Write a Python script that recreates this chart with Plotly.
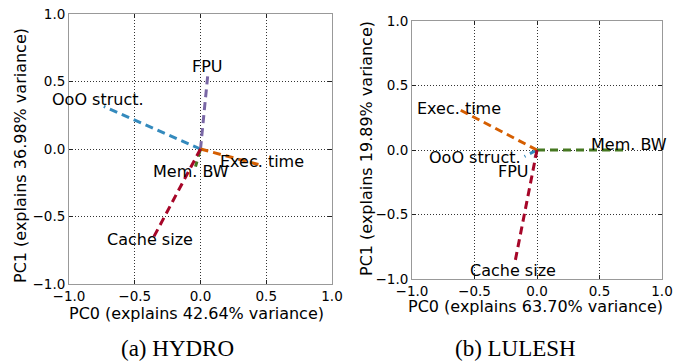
import plotly.graph_objects as go

# ---------------- data ----------------
features = ["OoO struct.", "FPU", "Exec. time", "Mem. BW", "Cache size"]

hydro_pc0 = [-0.735, 0.058, 0.46, -0.038, -0.367]
hydro_pc1 = [0.315, 0.575, -0.12, -0.13, -0.672]

lulesh_pc0 = [-0.10, -0.04, -0.614, 0.70, -0.178]
lulesh_pc1 = [-0.05, -0.095, 0.31, 0.0, -0.878]

# label anchor points (data coords)
hydro_lab_x = [-0.78, 0.05, 0.47, -0.076, -0.385]
hydro_lab_y = [0.37, 0.61, -0.09, -0.166, -0.667]
lulesh_lab_x = [-0.494, -0.19, -0.626, 0.736, -0.19]
lulesh_lab_y = [-0.055, -0.168, 0.318, 0.04, -0.935]

hydro_var = [42.64, 36.98]
lulesh_var = [63.70, 19.89]

ticks = [-1.0, -0.5, 0.0, 0.5, 1.0]
tick_text = ["\u22121.0", "\u22120.5", "0.0", "0.5", "1.0"]

captions = ["(a) HYDRO", "(b) LULESH"]

# ---------------- styles ----------------
colors = {"OoO struct.": "#348ABD", "FPU": "#7A68A6", "Exec. time": "#D55E00",
          "Mem. BW": "#467821", "Cache size": "#A60628"}
widths_hydro = {f: 3 for f in features}
widths_lulesh = {f: 3 for f in features}
widths_lulesh["FPU"] = 1

W, H = 686, 362
FONT = "DejaVu Sans"

fig = go.Figure()

panels = [
    dict(px=hydro_pc0, py=hydro_pc1, lx=hydro_lab_x, ly=hydro_lab_y, var=hydro_var,
         xa="x", ya="y", widths=widths_hydro,
         box=(69, 332, 14, 284), xt=(197, 313), yt=(20, 156), cap=(177, 348)),
    dict(px=lulesh_pc0, py=lulesh_pc1, lx=lulesh_lab_x, ly=lulesh_lab_y, var=lulesh_var,
         xa="x2", ya="y2", widths=widths_lulesh,
         box=(412, 662, 21, 279), xt=(535, 306), yt=(366, 149), cap=(515, 348)),
]

annotations = []
for i, p in enumerate(panels):
    for f, x, y in zip(features, p["px"], p["py"]):
        fig.add_trace(go.Scatter(
            x=[0, x], y=[0, y], mode="lines", xaxis=p["xa"], yaxis=p["ya"],
            line=dict(color=colors[f], width=p["widths"][f], dash="8px,5px"),
            showlegend=False, hoverinfo="skip"))
    for f, x, y in zip(features, p["lx"], p["ly"]):
        annotations.append(dict(
            x=x, y=y, xref=p["xa"], yref=p["ya"], text=f, showarrow=False,
            xanchor="center", yanchor="middle",
            font=dict(family=FONT, size=16, color="black")))
    x0, x1, y0, y1 = p["box"]
    axkw = dict(range=[-1, 1], tickvals=ticks, ticktext=tick_text, automargin=False,
                showgrid=True, gridcolor="#333", gridwidth=1, griddash="1px,2px",
                zeroline=False, showline=True, linecolor="#999", linewidth=1,
                mirror="ticks", ticks="inside", ticklen=4, tickcolor="#222",
                tickfont=dict(family=FONT, size=13.5, color="black"))
    sfx = "" if i == 0 else "2"
    fig.layout["xaxis" + sfx] = dict(domain=[x0 / W, x1 / W], anchor="y" + sfx, **axkw)
    fig.layout["yaxis" + sfx] = dict(domain=[1 - y1 / H, 1 - y0 / H], anchor="x" + sfx, **axkw)
    annotations.append(dict(
        x=p["xt"][0] / W, y=1 - p["xt"][1] / H, xref="paper", yref="paper",
        text=f"PC0 (explains {p['var'][0]:.2f}% variance)", showarrow=False,
        xanchor="center", yanchor="middle", font=dict(family=FONT, size=16, color="black")))
    annotations.append(dict(
        x=p["yt"][0] / W, y=1 - p["yt"][1] / H, xref="paper", yref="paper",
        text=f"PC1 (explains {p['var'][1]:.2f}% variance)", showarrow=False, textangle=-90,
        xanchor="center", yanchor="middle", font=dict(family=FONT, size=16, color="black")))
    annotations.append(dict(
        x=p["cap"][0] / W, y=1 - p["cap"][1] / H, xref="paper", yref="paper",
        text=captions[i], showarrow=False, xanchor="center", yanchor="middle",
        font=dict(family="Liberation Serif", size=23, color="black")))

fig.update_layout(width=W, height=H, margin=dict(l=0, r=0, t=0, b=0),
                  paper_bgcolor="white", plot_bgcolor="white",
                  annotations=annotations)

fig.write_html("out.html", config={"displayModeBar": False},
               post_script="document.body.style.margin='0';document.body.style.overflow='hidden';")
